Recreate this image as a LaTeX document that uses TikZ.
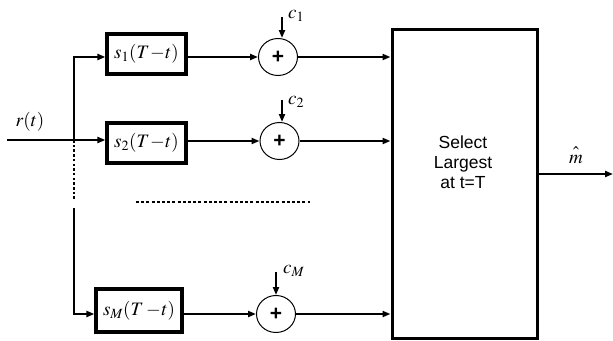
\documentclass[tikz,border=0pt]{standalone}
\usepackage{mathptmx}
\usepackage{fontspec}
\setsansfont{Liberation Sans}
\usetikzlibrary{arrows.meta,shapes.geometric}
\begin{document}
\begin{tikzpicture}[x=1pt,y=-1pt,
  conn/.style={line width=2.8pt,-{Triangle[length=8pt,width=6pt]}},
  wire/.style={line width=2.8pt},
  filt/.style={draw,line width=3.2pt,minimum width=79pt,minimum height=40pt,inner sep=0pt,font=\fontsize{19}{22}\selectfont},
  summer/.style={draw,line width=1pt,ellipse,minimum width=39pt,minimum height=37pt,inner sep=0pt,font=\sffamily\bfseries\fontsize{21}{23}\selectfont},
  lbl/.style={font=\fontsize{19}{22}\selectfont,inner sep=0pt}]
\useasboundingbox (0,0) rectangle (613,340);
% filters
\node[filt] (f1) at (146.5,54) {$s_1(T\!-\!t)$};
\node[filt] (f2) at (146.5,143) {$s_2(T\!-\!t)$};
\node[filt,minimum width=86pt,minimum height=43pt] (fM) at (139,310.5) {$s_M(T-\!t)$};
% summers
\node[summer] (a1) at (278,57) {+};
\node[summer] (a2) at (279.5,141) {+};
\node[summer] (aM) at (276,314) {+};
% decision box
\node[draw,line width=3pt,minimum width=145pt,minimum height=309pt,inner sep=0pt] (sel) at (464.5,184) {};
\node[font=\sffamily\fontsize{17.5}{20}\selectfont,align=center] (seltxt) at (463,162) {Select\\Largest\\at t=T};
% input
\coordinate (in) at (7,140);
\coordinate (j) at (74,140);
\coordinate (jtop) at (74,57);
\coordinate (jdot) at (74,201);
\coordinate (jsol) at (74,208);
\coordinate (jbot) at (74,314);
\node[lbl,anchor=south] (rt) at (30,131) {$r(t)$};
\draw[wire] (in) -- (j);
\draw[conn] (j) -- (j -| f2.west);
\draw[conn] (j) -- (jtop) -- (jtop -| f1.west);
\draw[line width=2.8pt,dash pattern=on 2.5pt off 2.2pt] (j) -- (jdot);
\draw[conn] (jsol) -- (jbot) -- (jbot -| fM.west);
% filters to summers
\draw[conn] (f1.east |- a1) -- (a1.west);
\draw[conn] (f2.east |- a2) -- (a2.west);
\draw[conn] (fM.east |- aM) -- (aM.west);
% bias inputs
\coordinate (c1) at (282,17);
\coordinate (c2) at (282,100);
\coordinate (cM) at (276,272);
\draw[conn,line width=2.4pt] (c1) -- (c1 |- a1.north);
\draw[conn,line width=2.4pt] (c2) -- (c2 |- a2.north);
\draw[conn,line width=2.4pt] (cM) -- (cM |- aM.north);
\node[lbl,anchor=west] (lc1) at (288,16) {$c_1$};
\node[lbl,anchor=west] (lc2) at (288,102) {$c_2$};
\node[lbl,anchor=west] (lcM) at (283,271) {$c_M$};
% summers to selector
\draw[conn] (a1.east) -- (a1.east -| sel.west);
\draw[conn] (a2.east) -- (a2.east -| sel.west);
\draw[conn] (aM.east) -- (aM.east -| sel.west);
% dotted separator
\coordinate (d1) at (136,202);
\coordinate (d2) at (310,202);
\draw[line width=2.8pt,dash pattern=on 3pt off 2.2pt] (d1) -- (d2);
% output
\coordinate (out) at (613,174);
\draw[conn] (sel.east |- out) -- (out);
\node[lbl,anchor=south] (mh) at (576,164) {$\hat{\vphantom{l}m}$};
\end{tikzpicture}
\end{document}
